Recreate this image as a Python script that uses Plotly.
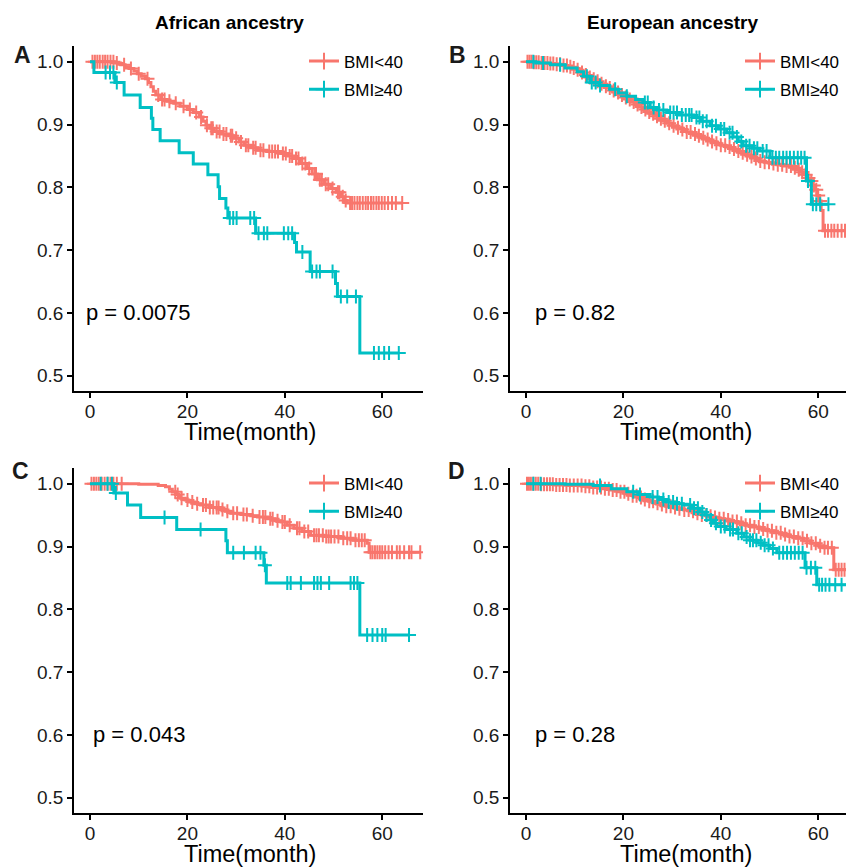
import numpy as np
import plotly.graph_objects as go

RED = "#F8766D"
TEAL = "#00BFC4"
FONT = "Liberation Sans, Arial, sans-serif"

GROUPS = ["BMI<40", "BMI≥40"]
PANEL_TITLES = ["African ancestry", "European ancestry"]
PANEL_LETTERS = ["A", "B", "C", "D"]
P_VALUES = ["p = 0.0075", "p = 0.82", "p = 0.043", "p = 0.28"]
Y_TICKS = [0.5, 0.6, 0.7, 0.8, 0.9, 1.0]
X_TICKS = [0, 20, 40, 60]

# ---------------- Panel A (African ancestry, top) ----------------
a_lo_times = [5.0, 6.3, 7.2, 8.0, 9.0, 9.7, 10.5, 11.4, 12.0, 12.5, 13.0, 13.5, 14.5, 15.8, 17.2,
              18.5, 20.0, 21.2, 22.4, 23.2, 23.8, 24.6, 25.5, 27.0, 28.5, 29.6, 30.6, 31.6, 33.0,
              34.4, 36.3, 39.2, 40.6, 41.9, 43.2, 44.6, 45.6, 46.7, 48.0, 49.4, 50.5, 51.5, 52.2, 52.8]
a_lo_surv = [0.998, 0.995, 0.992, 0.989, 0.985, 0.981, 0.977, 0.973, 0.967, 0.960, 0.953, 0.947,
             0.940, 0.937, 0.934, 0.929, 0.924, 0.919, 0.912, 0.905, 0.899, 0.894, 0.889, 0.885,
             0.882, 0.878, 0.872, 0.867, 0.863, 0.859, 0.857, 0.854, 0.850, 0.846, 0.838, 0.830,
             0.821, 0.812, 0.805, 0.798, 0.792, 0.785, 0.779, 0.775]
a_lo_cens = [0.5, 1.0, 1.5, 2.0, 2.6, 3.1, 3.6, 4.2, 4.8, 5.5, 7.0, 8.4, 10.0, 11.8, 14.0, 14.8,
             15.3, 16.3, 17.6, 19.2, 20.5, 21.8, 22.8, 24.0, 24.9, 25.2, 26.0, 26.6, 27.4, 28.0,
             28.9, 29.2, 30.0, 31.0, 32.0, 32.5, 33.5, 34.0, 35.0, 35.6, 36.8, 37.4, 38.0, 38.6,
             39.6, 40.2, 41.0, 41.5, 42.3, 42.8, 43.6, 44.2, 45.0, 46.1, 46.4, 47.2, 47.6, 48.4,
             48.9, 49.8, 50.9, 51.2, 51.9, 52.5, 53.4, 53.8, 54.3, 54.9, 55.4, 56.0, 56.6, 57.1,
             57.7, 58.2, 58.8, 59.3, 59.9, 60.5, 61.2, 62.0, 62.8, 64.1]

a_hi_times = [0.8, 5.1, 7.0, 10.3, 12.6, 12.9, 14.4, 18.3, 21.2, 24.2, 26.3, 26.6, 27.9, 28.3,
              34.0, 42.0, 42.4, 45.2, 50.4, 50.8, 55.4]
a_hi_surv = [0.983, 0.967, 0.947, 0.927, 0.910, 0.892, 0.874, 0.855, 0.837, 0.820, 0.801, 0.782,
             0.767, 0.751, 0.727, 0.712, 0.697, 0.666, 0.647, 0.626, 0.536]
a_hi_cens = [3.2, 4.1, 4.8, 5.5, 28.7, 29.4, 30.1, 32.9, 33.7, 34.6, 35.7, 36.4, 39.8, 40.7, 41.5,
             43.6, 45.6, 46.5, 47.2, 49.8, 51.5, 52.8, 54.6, 58.3, 59.3, 60.4, 61.4, 63.4]

# ---------------- Panel B (European ancestry, top) ----------------
b_lo_times = [1.5, 3.0, 4.5, 6.0, 7.5, 8.5, 9.5, 10.5, 11.3, 12.0, 12.8, 13.6, 14.4, 15.2, 16.0,
              16.8, 17.6, 18.4, 19.2, 20.0, 20.8, 21.6, 22.4, 23.2, 24.0, 24.8, 25.6, 26.4, 27.2,
              28.0, 29.0, 30.0, 31.0, 32.0, 33.0, 34.0, 35.0, 36.0, 37.0, 38.0, 39.0, 40.0, 41.0,
              42.0, 43.0, 44.0, 45.0, 46.0, 47.0, 48.0, 49.0, 50.0, 51.5, 53.0, 54.5, 55.5, 56.3,
              57.0, 57.6, 58.2, 58.8, 59.3, 59.8, 60.2, 60.6, 61.0]
b_lo_surv = [0.999, 0.998, 0.997, 0.996, 0.994, 0.992, 0.990, 0.987, 0.983, 0.979, 0.975, 0.972,
             0.969, 0.965, 0.961, 0.958, 0.954, 0.951, 0.947, 0.943, 0.940, 0.936, 0.932, 0.928,
             0.924, 0.920, 0.917, 0.913, 0.909, 0.906, 0.902, 0.898, 0.895, 0.892, 0.888, 0.885,
             0.882, 0.879, 0.876, 0.873, 0.870, 0.867, 0.864, 0.861, 0.858, 0.855, 0.852, 0.849,
             0.846, 0.842, 0.840, 0.838, 0.836, 0.834, 0.831, 0.828, 0.824, 0.820, 0.815, 0.810,
             0.803, 0.796, 0.787, 0.778, 0.763, 0.731]
b_lo_cens = [0.3, 0.7, 1.1, 1.6, 2.1, 2.6, 3.2, 3.8, 4.4, 5.0, 5.6, 6.3, 7.0, 7.7, 8.4, 9.1, 9.8,
             10.6, 11.5, 12.3, 13.1, 13.9, 14.7, 15.5, 16.4, 17.2, 18.0, 18.9, 19.7, 20.5, 21.3,
             22.1, 22.9, 23.7, 24.5, 25.3, 26.1, 26.9, 27.7, 28.5, 29.4, 30.3, 31.2, 32.1, 33.0,
             33.8, 34.7, 35.5, 36.4, 37.3, 38.2, 39.1, 40.0, 40.9, 41.8, 42.7, 43.6, 44.5, 45.4,
             46.3, 47.2, 48.1, 49.0, 49.9, 50.8, 51.7, 52.6, 53.5, 54.4, 55.2, 56.0, 56.7, 57.4,
             58.0, 58.6, 59.1, 59.6, 60.0, 60.4, 61.4, 62.0, 62.7, 63.3, 64.0, 64.8, 65.5, 66.2, 66.9]

b_hi_times = [2.0, 5.0, 8.0, 10.5, 11.8, 13.1, 15.0, 17.2, 19.0, 20.7, 22.5, 24.1, 25.5, 27.0,
              28.9, 31.5, 34.4, 36.0, 37.8, 39.5, 41.2, 42.5, 43.6, 44.6, 46.5, 48.0, 50.1, 57.6, 58.6]
b_hi_surv = [0.998, 0.995, 0.990, 0.984, 0.977, 0.967, 0.962, 0.956, 0.950, 0.945, 0.940, 0.935,
             0.927, 0.923, 0.919, 0.915, 0.911, 0.905, 0.898, 0.893, 0.887, 0.880, 0.873, 0.866,
             0.862, 0.858, 0.847, 0.810, 0.773]
b_hi_cens = [1.5, 3.5, 7.0, 12.5, 13.5, 14.3, 15.2, 18.3, 20.7, 24.4, 25.0, 26.2, 27.3, 28.2, 29.6,
             30.3, 31.0, 32.0, 32.8, 33.5, 34.0, 35.0, 35.6, 36.3, 37.1, 38.2, 39.0, 40.0, 40.7,
             41.8, 42.4, 43.3, 44.2, 45.2, 45.9, 46.8, 47.5, 48.6, 49.4, 50.6, 51.3, 52.0, 52.8,
             53.5, 54.2, 55.0, 55.8, 56.5, 57.2, 57.9, 58.9, 59.6, 60.4, 62.1]

# ---------------- Panel C (African ancestry, bottom) ----------------
c_lo_times = [10.0, 14.0, 15.5, 16.3, 16.9, 17.6, 18.2, 18.6, 19.5, 20.3, 21.5, 22.7, 24.5, 26.8,
              27.8, 28.9, 31.0, 33.0, 34.4, 36.5, 38.0, 39.2, 40.5, 41.9, 43.5, 45.3, 48.0, 51.5,
              54.0, 56.9, 57.3]
c_lo_surv = [0.999, 0.997, 0.995, 0.991, 0.987, 0.983, 0.980, 0.977, 0.974, 0.971, 0.968, 0.966,
             0.962, 0.959, 0.956, 0.953, 0.951, 0.949, 0.947, 0.944, 0.941, 0.939, 0.934, 0.929,
             0.924, 0.918, 0.916, 0.913, 0.910, 0.905, 0.891]
c_lo_cens = [0.3, 0.8, 1.3, 1.8, 2.4, 3.0, 3.6, 4.2, 4.8, 5.5, 6.5, 17.5, 18.0, 18.8, 20.0, 21.0,
             22.0, 23.2, 23.8, 24.6, 25.3, 26.0, 26.4, 27.2, 28.2, 29.4, 30.2, 31.5, 32.2, 33.4,
             34.8, 35.5, 36.0, 37.0, 37.5, 38.5, 39.5, 40.0, 41.0, 42.5, 43.0, 44.0, 44.8, 46.0,
             46.5, 47.0, 47.8, 48.5, 49.0, 49.5, 50.2, 51.0, 52.0, 52.8, 53.5, 54.5, 55.2, 55.8,
             56.4, 57.6, 58.0, 58.5, 59.0, 59.5, 60.0, 60.6, 61.3, 62.0, 63.0, 63.6, 64.5, 65.5,
             66.0, 67.8]

c_hi_times = [4.9, 7.7, 10.4, 17.8, 27.9, 28.2, 35.7, 36.2, 55.4]
c_hi_surv = [0.985, 0.966, 0.946, 0.927, 0.909, 0.890, 0.870, 0.842, 0.759]
c_hi_cens = [2.2, 3.6, 4.5, 5.3, 15.3, 22.7, 29.4, 31.6, 34.0, 35.0, 35.9, 40.5, 41.2, 43.3, 46.0,
             46.7, 47.4, 49.1, 53.5, 54.2, 54.9, 56.9, 58.0, 59.0, 60.0, 60.7, 65.5]

# ---------------- Panel D (European ancestry, bottom) ----------------
d_lo_times = [3.0, 6.0, 9.0, 11.5, 13.5, 15.5, 17.2, 18.8, 20.3, 21.8, 23.0, 24.1, 25.2, 26.3,
              27.5, 28.7, 30.0, 31.2, 32.4, 33.6, 34.8, 36.0, 37.2, 38.4, 39.6, 40.8, 42.0, 43.5,
              45.0, 46.5, 48.0, 49.5, 51.0, 52.5, 54.0, 55.5, 57.0, 58.5, 60.0, 61.0, 63.2]
d_lo_surv = [0.999, 0.998, 0.997, 0.996, 0.994, 0.992, 0.990, 0.987, 0.984, 0.981, 0.978, 0.975,
             0.972, 0.969, 0.967, 0.964, 0.962, 0.960, 0.958, 0.956, 0.953, 0.950, 0.948, 0.946,
             0.944, 0.942, 0.940, 0.937, 0.934, 0.931, 0.928, 0.925, 0.922, 0.919, 0.916, 0.913,
             0.909, 0.905, 0.901, 0.898, 0.863]
d_lo_cens = [0.2, 0.6, 1.0, 1.5, 2.0, 2.5, 3.1, 3.7, 4.3, 4.9, 5.5, 6.2, 6.9, 7.6, 8.3, 9.0, 9.8,
             10.6, 11.4, 12.2, 13.0, 13.8, 14.6, 15.4, 16.2, 17.0, 17.8, 18.6, 19.4, 20.2, 21.0,
             21.9, 22.7, 23.6, 24.4, 25.3, 26.1, 27.0, 27.9, 28.8, 29.7, 30.6, 31.5, 32.5, 33.4,
             34.3, 35.2, 36.1, 37.0, 37.9, 38.8, 39.7, 40.6, 41.5, 42.4, 43.3, 44.2, 45.1, 46.0,
             46.9, 47.8, 48.7, 49.6, 50.5, 51.4, 52.3, 53.2, 54.1, 55.0, 55.9, 56.8, 57.7, 58.6,
             59.5, 60.4, 61.3, 62.0, 62.8, 63.6, 64.2, 64.8, 65.4, 66.0, 66.6, 67.3]

d_hi_times = [8.0, 13.8, 17.5, 20.7, 23.0, 25.5, 27.2, 28.9, 30.5, 32.3, 34.0, 35.7, 36.8, 37.8,
              38.5, 39.2, 41.0, 43.3, 44.8, 46.0, 47.5, 48.7, 50.0, 51.5, 57.3, 59.7]
d_hi_surv = [0.999, 0.997, 0.992, 0.987, 0.983, 0.979, 0.975, 0.971, 0.968, 0.966, 0.961, 0.955,
             0.950, 0.942, 0.937, 0.932, 0.927, 0.921, 0.915, 0.910, 0.906, 0.902, 0.897, 0.890,
             0.866, 0.839]
d_hi_cens = [1.5, 3.0, 15.2, 22.0, 23.4, 26.0, 27.0, 28.2, 29.3, 30.2, 31.0, 32.0, 33.7, 34.5,
             35.3, 36.2, 37.1, 38.0, 39.0, 40.0, 40.8, 41.9, 42.5, 43.6, 44.3, 45.3, 46.0, 46.6,
             47.3, 48.2, 49.0, 49.8, 50.7, 52.0, 52.8, 53.6, 54.4, 55.2, 56.0, 56.8, 57.6, 58.5,
             59.4, 60.2, 60.8, 61.5, 62.3, 63.5, 64.8, 66.9]

PANELS = [
    dict(lo=(a_lo_times, a_lo_surv, a_lo_cens), hi=(a_hi_times, a_hi_surv, a_hi_cens)),
    dict(lo=(b_lo_times, b_lo_surv, b_lo_cens), hi=(b_hi_times, b_hi_surv, b_hi_cens)),
    dict(lo=(c_lo_times, c_lo_surv, c_lo_cens), hi=(c_hi_times, c_hi_surv, c_hi_cens)),
    dict(lo=(d_lo_times, d_lo_surv, d_lo_cens), hi=(d_hi_times, d_hi_surv, d_hi_cens)),
]

# ---------------- layout geometry ----------------
# The page places the figure 8 px in from the top-left corner of the window,
# so the figure is made 8 px smaller and every screen position is shifted by 8 px.
OFF = 8
W, H = 854 - OFF, 867 - OFF
X_PIX = [(74, 423), (510, 854), (74, 423), (510, 854)]
Y_PIX = [(46.0, 391.4), (46.0, 391.4), (468.0, 813.4), (468.0, 813.4)]
X_RANGES = [[-3.29, 68.37], [-3.29, 67.35], [-3.29, 68.37], [-3.29, 67.35]]
Y_RANGE = [0.475, 1.025]


def px(v):
    return (v - OFF) / W


def py(v):
    return 1 - (v - OFF) / H


def surv_at(times, surv, t):
    idx = np.searchsorted(np.asarray(times), np.asarray(t), side="right")
    s = np.concatenate([[1.0], np.asarray(surv)])
    return s[idx]


fig = go.Figure()
layout = dict(
    width=W, height=H, margin=dict(l=0, r=0, t=0, b=0, autoexpand=False),
    paper_bgcolor="white", plot_bgcolor="white",
    font=dict(family=FONT, color="black"),
    showlegend=True,
)
annotations = []

for i, panel in enumerate(PANELS):
    k = i + 1
    xa = "x" if k == 1 else f"x{k}"
    ya = "y" if k == 1 else f"y{k}"
    leg = "legend" if k == 1 else f"legend{k}"
    for key, color, gname in (("lo", RED, GROUPS[0]), ("hi", TEAL, GROUPS[1])):
        times, surv, cens = panel[key]
        tmax = max(max(cens), max(times))
        xs = [0.0] + list(times) + [tmax]
        ys = [1.0] + list(surv) + [surv[-1]]
        fig.add_trace(go.Scatter(
            x=xs, y=ys, mode="lines", xaxis=xa, yaxis=ya,
            line=dict(color=color, width=3, shape="hv"),
            showlegend=False, hoverinfo="skip"))
        fig.add_trace(go.Scatter(
            x=cens, y=surv_at(times, surv, cens), mode="markers", xaxis=xa, yaxis=ya,
            marker=dict(symbol="cross-thin", size=10, color=color,
                        line=dict(color=color, width=2)),
            showlegend=False, hoverinfo="skip"))
        fig.add_trace(go.Scatter(
            x=[None], y=[None], mode="lines+markers", xaxis=xa, yaxis=ya,
            name=gname, legend=leg, legendgroup=f"{k}{key}",
            line=dict(color=color, width=3),
            marker=dict(symbol="cross-thin", size=12, color=color,
                        line=dict(color=color, width=2))))

    x0, x1 = X_PIX[i]
    y0, y1 = Y_PIX[i]
    axis_common = dict(
        showline=True, linecolor="black", linewidth=1.5, mirror=False,
        ticks="outside", ticklen=5, tickwidth=1.5, tickcolor="black",
        showgrid=False, zeroline=False,
        tickfont=dict(family=FONT, size=19, color="#1a1a1a"),
    )
    layout[f"xaxis{'' if k == 1 else k}"] = dict(
        axis_common, domain=[px(x0), min(1.0, px(x1))], range=X_RANGES[i],
        anchor=ya, tickvals=X_TICKS, ticktext=[str(v) for v in X_TICKS],
        ticklabelstandoff=-3)
    layout[f"yaxis{'' if k == 1 else k}"] = dict(
        axis_common, domain=[py(y1), py(y0)], range=Y_RANGE,
        anchor=xa, tickvals=Y_TICKS, ticktext=[f"{v:.1f}" for v in Y_TICKS])

    # legend per panel
    layout[leg] = dict(
        x=px(x0 + 230), y=py(y0 - 2.5), xanchor="left", yanchor="top",
        bgcolor="rgba(0,0,0,0)", borderwidth=0,
        font=dict(family=FONT, size=17, color="black"),
        traceorder="grouped", tracegroupgap=3, itemwidth=30)

    # p value
    annotations.append(dict(
        x=10, y=0.6, xref=xa, yref=ya, text=P_VALUES[i], showarrow=False,
        xanchor="center", yanchor="middle",
        font=dict(family=FONT, size=22, color="black")))

    # x-axis title
    annotations.append(dict(
        x=px(x0 + 176), y=py(y1 + 41), xref="paper", yref="paper",
        text="Time(month)", showarrow=False, xanchor="center", yanchor="middle",
        font=dict(family=FONT, size=23.5, color="black")))

    # panel letter
    letter_x = [22, 457, 20, 456][i]
    letter_y = [55, 55, 471, 471][i]
    annotations.append(dict(
        x=px(letter_x), y=py(letter_y), xref="paper", yref="paper",
        text=f"<b>{PANEL_LETTERS[i]}</b>", showarrow=False,
        xanchor="center", yanchor="middle",
        font=dict(family=FONT, size=23, color="#1a1a1a")))

for j, title in enumerate(PANEL_TITLES):
    annotations.append(dict(
        x=px([229.5, 672][j]), y=py(23), xref="paper", yref="paper",
        text=f"<b>{title}</b>", showarrow=False, xanchor="center", yanchor="middle",
        font=dict(family=FONT, size=19, color="black")))

layout["annotations"] = annotations
fig.update_layout(**layout)
fig.write_html("out.html")
